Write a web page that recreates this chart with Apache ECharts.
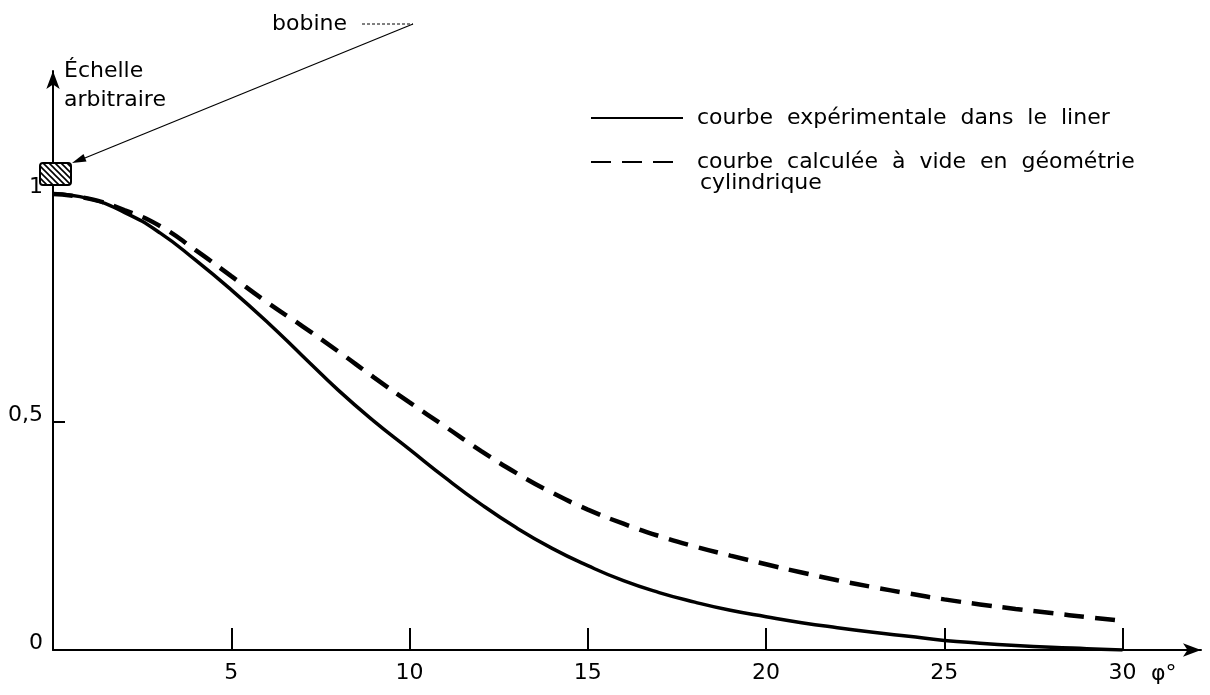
<!DOCTYPE html>
<html>
<head>
<meta charset="utf-8">
<script src="https://cdn.jsdelivr.net/npm/echarts@6/dist/echarts.min.js"></script>
<style>
  html, body { margin: 0; padding: 0; background: #fff; }
  #chart { width: 1210px; height: 695px; }
</style>
</head>
<body>
<div id="chart"></div>
<script>
// angle φ in degrees
const phi = [0, 1, 2, 3, 4, 5, 6, 7, 8, 9, 10, 11, 12, 13, 14, 15, 16, 17, 18, 19, 20, 21, 22, 23, 24, 25, 26, 27, 28, 29, 30]
// courbe expérimentale dans le liner
const experimental = [1.0, 0.99, 0.96, 0.915, 0.855, 0.79, 0.72, 0.645, 0.57, 0.502, 0.44, 0.378, 0.32, 0.268, 0.223, 0.185, 0.152, 0.126, 0.105, 0.087, 0.073, 0.06, 0.049, 0.039, 0.03, 0.021, 0.015, 0.01, 0.006, 0.003, 0.0]
// courbe calculée à vide en géométrie cylindrique
const calculated = [1.0, 0.99, 0.965, 0.93, 0.877, 0.82, 0.763, 0.71, 0.655, 0.598, 0.543, 0.49, 0.437, 0.388, 0.345, 0.308, 0.277, 0.25, 0.227, 0.207, 0.188, 0.17, 0.153, 0.138, 0.124, 0.111, 0.1, 0.09, 0.081, 0.072, 0.064]

const xTicks = [5, 10, 15, 20, 25, 30]
const yLabels = [0, 0.5, 1]
const yTicks = [0.5]

const expName = 'courbe expérimentale dans le liner'
const calcName = 'courbe calculée à vide en géométrie'

const font = 'DejaVu Sans'
const ink = '#000'
const fs = 22

// hatch for the coil box
const hatch = document.createElement('canvas')
hatch.width = 6
hatch.height = 6
const hc = hatch.getContext('2d')
hc.fillStyle = '#fff'
hc.fillRect(0, 0, 6, 6)
hc.strokeStyle = '#000'
hc.lineWidth = 1.6
hc.beginPath()
hc.moveTo(-1, -1); hc.lineTo(7, 7)
hc.moveTo(-1, 5); hc.lineTo(1, 7)
hc.moveTo(5, -1); hc.lineTo(7, 1)
hc.stroke()

const chart = echarts.init(document.getElementById('chart'), null, { renderer: 'canvas' })

chart.setOption({
  backgroundColor: '#fff',
  animation: false,
  textStyle: { fontFamily: font, color: ink },
  grid: { left: 53, right: 9, top: 71, bottom: 45 },
  legend: {
    orient: 'vertical',
    left: 590,
    top: 106,
    padding: 0,
    itemWidth: 92,
    itemHeight: 14,
    itemGap: 20,
    itemStyle: { color: 'rgba(0,0,0,0)', borderWidth: 0, opacity: 0 },
    textStyle: { fontFamily: font, fontSize: fs, color: ink, lineHeight: 24, padding: [0, 0, 0, 9] },
    // the lettering on the original is widely spaced
    formatter: (n) => n.replace(/ /g, '  '),
    data: [expName, calcName]
  },
  xAxis: {
    type: 'value',
    min: 0,
    max: 32.2,
    interval: 5,
    name: 'φ°',
    nameLocation: 'end',
    nameGap: -50,
    nameTextStyle: { fontFamily: font, fontSize: fs, color: ink, align: 'left', verticalAlign: 'top', lineHeight: 24, padding: [12, 0, 0, 0] },
    axisLine: { show: true, symbol: ['none', 'arrow'], symbolSize: [10, 18], lineStyle: { color: ink, width: 2 } },
    axisTick: { show: true, inside: true, length: 22, customValues: xTicks, lineStyle: { color: ink, width: 2 } },
    axisLabel: { customValues: xTicks, fontFamily: font, fontSize: fs, color: ink, margin: 12 },
    splitLine: { show: false }
  },
  yAxis: {
    type: 'value',
    min: 0,
    max: 1.27,
    interval: 0.5,
    name: 'Échelle\narbitraire',
    nameLocation: 'end',
    nameGap: 14,
    nameTextStyle: { fontFamily: font, fontSize: fs, color: ink, align: 'left', verticalAlign: 'top', lineHeight: 29, padding: [0, 0, 0, 11] },
    axisLine: { show: true, symbol: ['none', 'arrow'], symbolSize: [10, 18], lineStyle: { color: ink, width: 2 } },
    axisTick: { show: true, inside: true, length: 12, customValues: yTicks, lineStyle: { color: ink, width: 2 } },
    axisLabel: {
      customValues: yLabels,
      fontFamily: font,
      fontSize: fs,
      color: ink,
      margin: 10,
      verticalAlign: 'bottom',
      lineHeight: 14,
      formatter: (v) => String(v).replace('.', ',')
    },
    splitLine: { show: false }
  },
  series: [
    {
      name: expName,
      type: 'line',
      data: phi.map((p, i) => [p, experimental[i]]),
      smooth: true,
      showSymbol: false,
      symbol: 'none',
      lineStyle: { color: ink, width: 3.5 },
      itemStyle: { color: ink }
    },
    {
      name: calcName,
      type: 'line',
      data: phi.map((p, i) => [p, calculated[i]]),
      smooth: true,
      showSymbol: false,
      symbol: 'none',
      lineStyle: { color: ink, width: 4.5, type: [20, 11] },
      itemStyle: { color: ink }
    }
  ],
  graphic: [
    // second line of the dashed legend entry
    { type: 'text', left: 700, top: 172, style: { text: 'cylindrique', font: fs + 'px "DejaVu Sans"', fill: ink } },
    // coil label with leader and arrow
    { type: 'text', left: 272, top: 13, style: { text: 'bobine', font: fs + 'px "DejaVu Sans"', fill: ink } },
    { type: 'line', shape: { x1: 362, y1: 24, x2: 413, y2: 24 }, style: { stroke: ink, lineWidth: 1, lineDash: [3, 2] } },
    { type: 'line', shape: { x1: 413, y1: 24, x2: 80, y2: 160 }, style: { stroke: ink, lineWidth: 1.2 } },
    { type: 'polygon', shape: { points: [[72, 163], [86.5, 161.4], [83.5, 154]] }, style: { fill: ink } },
    {
      type: 'rect',
      shape: { x: 40, y: 163, width: 31, height: 22, r: 3 },
      style: { fill: { image: hatch, repeat: 'repeat' }, stroke: ink, lineWidth: 2 },
      z: 10
    }
  ]
})
</script>
</body>
</html>
